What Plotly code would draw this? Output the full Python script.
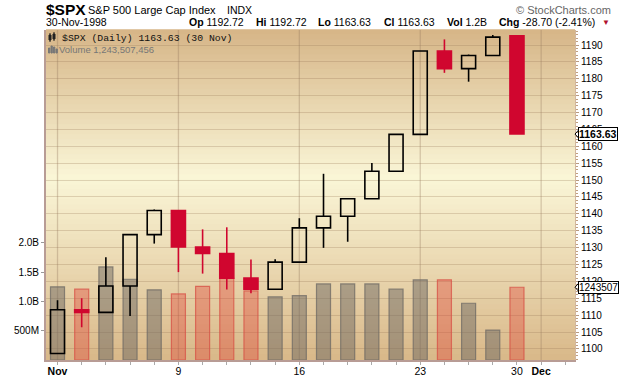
import plotly.graph_objects as go

# ---------------- data ----------------
dates = ["1998-11-02", "1998-11-03", "1998-11-04", "1998-11-05", "1998-11-06",
         "1998-11-09", "1998-11-10", "1998-11-11", "1998-11-12", "1998-11-13",
         "1998-11-16", "1998-11-17", "1998-11-18", "1998-11-19", "1998-11-20",
         "1998-11-23", "1998-11-24", "1998-11-25", "1998-11-27", "1998-11-30"]
opens = [1098.67, 1111.60, 1110.84, 1118.67, 1133.85, 1141.01, 1130.20, 1128.26, 1120.97, 1117.69,
         1125.72, 1135.87, 1139.32, 1144.48, 1152.61, 1163.55, 1188.21, 1182.99, 1186.87, 1192.72]
highs = [1114.44, 1115.03, 1127.18, 1133.86, 1141.30, 1141.01, 1135.42, 1136.03, 1126.50, 1126.59,
         1138.72, 1151.87, 1144.52, 1155.10, 1163.55, 1188.21, 1191.66, 1187.16, 1192.97, 1192.72]
lows = [1098.67, 1106.43, 1110.84, 1109.76, 1131.20, 1122.76, 1122.32, 1117.61, 1116.52, 1117.69,
        1125.72, 1129.94, 1131.75, 1144.42, 1152.61, 1163.55, 1181.76, 1179.14, 1186.83, 1163.63]
closes = [1111.60, 1110.84, 1118.67, 1133.85, 1141.01, 1130.20, 1128.26, 1120.97, 1117.69, 1125.72,
          1135.87, 1139.32, 1144.48, 1152.61, 1163.55, 1188.21, 1182.99, 1186.87, 1192.33, 1163.63]
volumes = [1.25e9, 1.21e9, 1.59e9, 1.38e9, 1.20e9, 1.13e9, 1.26e9, 1.40e9, 1.18e9, 1.08e9,
           1.10e9, 1.30e9, 1.30e9, 1.30e9, 1.21e9, 1.37e9, 1.37e9, 0.97e9, 0.51e9, 1243507456]

x_tick_pos = [0, 5, 10, 15, 19, 20]
x_tick_text = ["<b>Nov</b>", "9", "16", "23", "30", "<b>Dec</b>"]
x_grid_pos = [0, 5, 10, 15, 20]
price_ticks = list(range(1100, 1191, 5))
vol_tickvals = [0.5e9, 1.0e9, 1.5e9, 2.0e9]
vol_ticktext = ["500M", "1.0B", "1.5B", "2.0B"]
last_close = 1163.63
last_volume = 1243507456

# ---------------- styling ----------------
W, H = 620, 376
L, R, T, B = 46, 45, 30, 16
PW, PH = W - L - R, H - T - B
RED = "#d0062f"
FONT = "Liberation Sans, Arial, sans-serif"


def px(x):
    return (x - L) / PW


def py(y):
    return (H - B - y) / PH


xs = list(range(len(dates)))
up = [c >= o for o, c in zip(opens, closes)]

fig = go.Figure()

# volume bars (base axis, left)
for flag, fill, edge in [(True, "rgba(105,100,95,0.47)", "rgba(110,105,100,0.75)"),
                         (False, "rgba(225,60,50,0.36)", "rgba(215,80,70,0.75)")]:
    idx = [i for i in xs if up[i] == flag]
    fig.add_trace(go.Bar(x=idx, y=[volumes[i] for i in idx], width=0.58,
                         marker=dict(color=fill, line=dict(color=edge, width=1.2)),
                         yaxis="y", hoverinfo="skip"))

# candle wicks
for flag, col in [(True, "black"), (False, RED)]:
    wx, wy = [], []
    for i in xs:
        if up[i] != flag:
            continue
        top, bot = max(opens[i], closes[i]), min(opens[i], closes[i])
        wx += [i, i, None, i, i, None]
        wy += [highs[i], top, None, bot, lows[i], None]
    fig.add_trace(go.Scatter(x=wx, y=wy, mode="lines", yaxis="y2",
                             line=dict(color=col, width=1.6), hoverinfo="skip"))

# candle bodies
for flag, fill, edge in [(True, "rgba(0,0,0,0)", "black"), (False, RED, RED)]:
    idx = [i for i in xs if up[i] == flag]
    fig.add_trace(go.Bar(x=idx,
                         base=[min(opens[i], closes[i]) for i in idx],
                         y=[abs(closes[i] - opens[i]) for i in idx],
                         width=0.58, yaxis="y2",
                         marker=dict(color=fill, line=dict(color=edge, width=1.6)),
                         hoverinfo="skip"))

# background gradient bands
stops = [(0.0, (214, 181, 135)), (0.45, (250, 246, 215)), (1.0, (217, 184, 137))]


def grad(t):
    for (t0, c0), (t1, c1) in zip(stops[:-1], stops[1:]):
        if t0 <= t <= t1:
            f = (t - t0) / (t1 - t0)
            return tuple(round(a + (b - a) * f) for a, b in zip(c0, c1))
    return stops[-1][1]


shapes = []
n = 66
for k in range(n):
    t = (k + 0.5) / n
    c = grad(t)
    shapes.append(dict(type="rect", xref="paper", yref="paper", x0=0, x1=1,
                       y0=1 - (k + 1) / n - 0.002, y1=1 - k / n + 0.002,
                       fillcolor="rgb(%d,%d,%d)" % c, line=dict(width=0), layer="below"))

# vertical grid lines
for g in x_grid_pos:
    shapes.append(dict(type="line", xref="x", yref="paper", x0=g, x1=g, y0=0, y1=1,
                       line=dict(color="rgba(150,120,95,0.35)", width=1.3), layer="below"))

# notches for right-side value labels
for yref, yv in [("y2", last_close), ("y", last_volume)]:
    shapes.append(dict(type="path", xref="paper", yref=yref, xsizemode="pixel", ysizemode="pixel",
                       xanchor=1, yanchor=yv, path="M 4.5 5 L 0 0 L 4.5 -5",
                       line=dict(color="black", width=1)))


# legend icons (tiny)
def rect(x0, y0, x1, y1, color, fill=True):
    return dict(type="rect", xref="paper", yref="paper", x0=px(x0), x1=px(x1), y0=py(y1), y1=py(y0),
                fillcolor=color if fill else "rgba(0,0,0,0)", line=dict(color=color, width=1))


shapes += [rect(49, 35, 51, 40, "#222"), rect(53, 34, 55, 39, "#222"),
           dict(type="line", xref="paper", yref="paper", x0=px(50), x1=px(50), y0=py(42), y1=py(33),
                line=dict(color="#222", width=1)),
           dict(type="line", xref="paper", yref="paper", x0=px(54), x1=px(54), y0=py(41), y1=py(32),
                line=dict(color="#222", width=1)),
           rect(48.5, 48, 49.8, 53, "#777"), rect(51, 46, 52.3, 53, "#777"),
           rect(53.5, 47, 54.8, 53, "#777"), rect(56, 49, 57.3, 53, "#777")]

ann = []


def add(text, x, y, size, color="black", xanchor="left", bold=False, family=FONT, **kw):
    ann.append(dict(text=("<b>%s</b>" % text) if bold else text, xref="paper", yref="paper",
                    x=px(x), y=py(y), xanchor=xanchor, yanchor="middle", showarrow=False,
                    font=dict(size=size, color=color, family=family), **kw))


add("$SPX", 44, 9.5, 15.5, bold=True)
add("S&P 500 Large Cap Index", 86, 10, 11)
add("INDX", 225, 10, 10.5)
add("© StockCharts.com", 613, 10, 11, color="#666", xanchor="right")
add("30-Nov-1998", 44, 22, 10.5)
for lab, val, x in [("Op", "1192.72", 187), ("Hi", "1192.72", 254), ("Lo", "1163.63", 316),
                    ("Cl", "1163.63", 382), ("Vol", "1.2B", 445), ("Chg", "-28.70 (-2.41%)", 497)]:
    add("<b>%s</b> %s" % (lab, val), x, 22, 10.5)
add("▼", 612, 23, 8, color="#b0102e", xanchor="right")
add("$SPX (Daily) 1163.63 (30 Nov)", 60, 38, 9.8, color="#111", family="Liberation Mono, monospace")
add("Volume 1,243,507,456", 57, 50, 9.5, color="#777")

ann.append(dict(text="<b>1163.63</b>", xref="paper", yref="y2", x=1, y=last_close, xanchor="left",
                yanchor="middle", xshift=3, showarrow=False, bgcolor="white", bordercolor="black",
                borderwidth=1, borderpad=0, font=dict(size=10.5, family=FONT, color="black")))
ann.append(dict(text="1243507", xref="paper", yref="y", x=1, y=last_volume, xanchor="left",
                yanchor="middle", xshift=3, showarrow=False, bgcolor="white", bordercolor="black",
                borderwidth=1, borderpad=0, font=dict(size=10, family=FONT, color="black")))

axis_line = "#b89c95"
fig.update_layout(
    width=W, height=H, margin=dict(l=L, r=R, t=T, b=B, autoexpand=False),
    paper_bgcolor="white", plot_bgcolor="rgba(0,0,0,0)",
    showlegend=False, barmode="overlay", bargap=0,
    font=dict(family=FONT, size=10, color="black"),
    shapes=shapes, annotations=ann,
    xaxis=dict(range=[-0.476, 21.4], tickmode="array", tickvals=x_tick_pos, ticktext=x_tick_text,
               showgrid=False, zeroline=False, showline=True, linecolor=axis_line, linewidth=2,
               ticks="", tickfont=dict(size=10.5),
               minor=dict(tickmode="linear", tick0=0, dtick=1, ticks="outside", ticklen=3,
                          tickcolor="#aaa", showgrid=False),
               automargin=False, fixedrange=True),
    yaxis=dict(range=[0, 5.64e9], tickmode="array", tickvals=vol_tickvals, ticktext=vol_ticktext,
               side="left", showgrid=False, zeroline=False, showline=True, linecolor=axis_line,
               linewidth=2, ticks="outside", ticklen=3, tickcolor="#999", tickfont=dict(size=10),
               automargin=False),
    yaxis2=dict(range=[1096.74, 1194.44], overlaying="y", side="right", tickmode="array",
                tickvals=price_ticks, showgrid=True, gridcolor="rgba(150,120,85,0.28)", gridwidth=1,
                zeroline=False, showline=True, linecolor="#d2b79f", linewidth=1,
                ticks="outside", ticklen=3, tickcolor="#b89a80", tickfont=dict(size=10),
                minor=dict(tickmode="linear", tick0=1100, dtick=1, ticks="outside", ticklen=2,
                           tickcolor="#c0a080", showgrid=False),
                automargin=False),
)

fig.write_html("out.html", config={"displayModeBar": False, "staticPlot": True},
               post_script="document.body.style.margin='0px';")
